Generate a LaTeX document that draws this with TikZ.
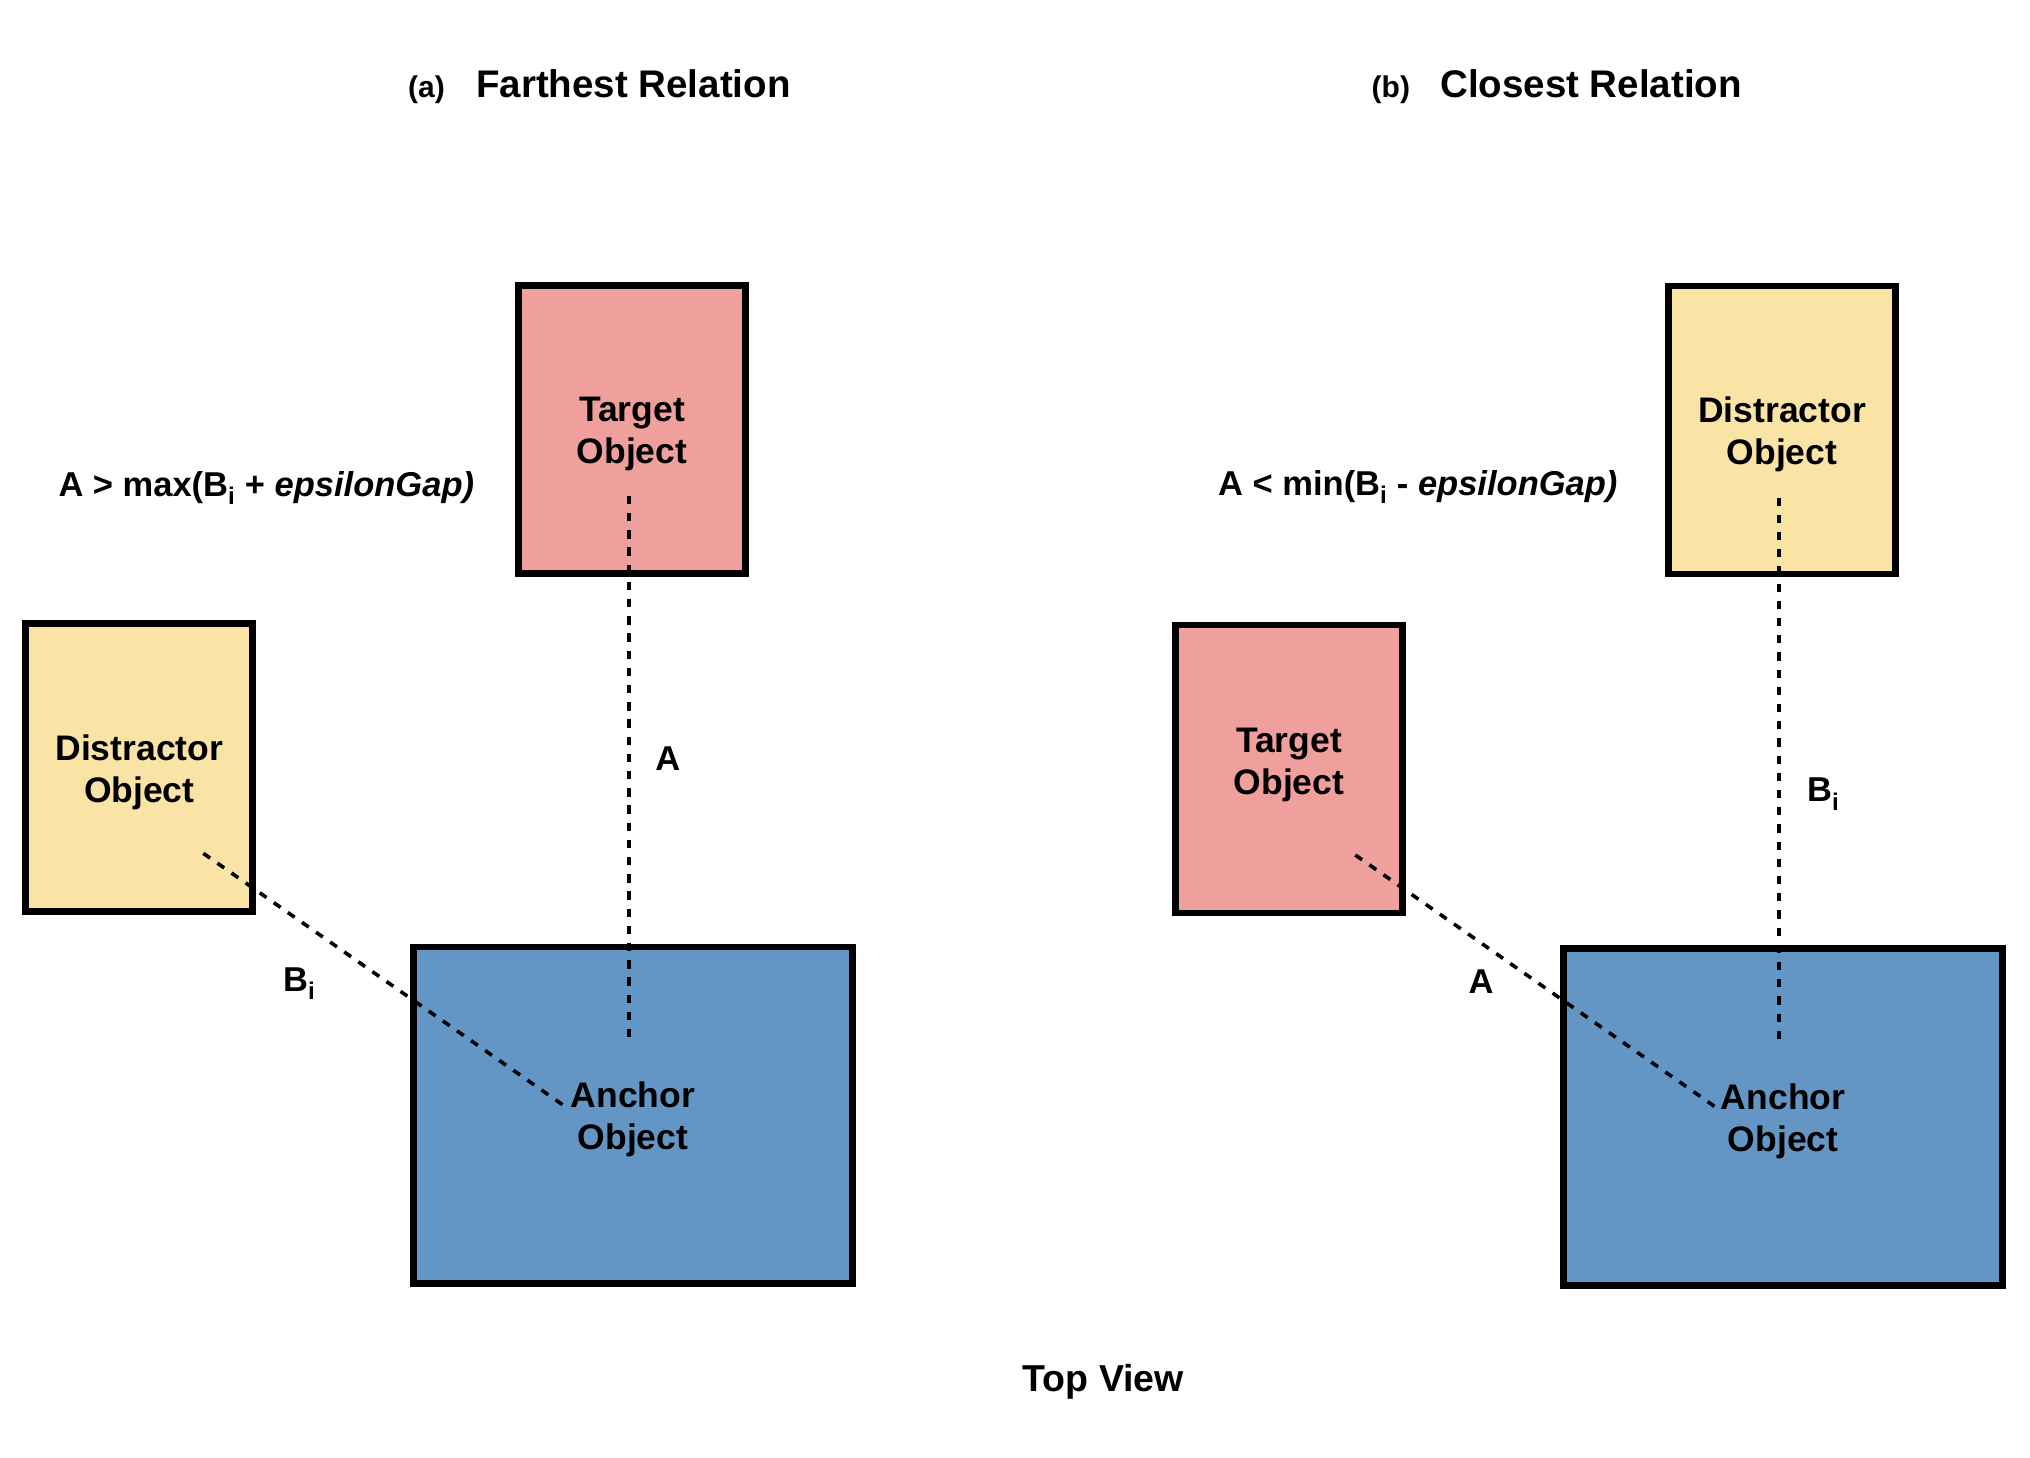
\documentclass[tikz,border=0pt]{standalone}
\usepackage{fontspec}
\setmainfont{Liberation Sans}
\definecolor{pinkc}{HTML}{EF9F9C}
\definecolor{yellowc}{HTML}{F9E4A6}
\definecolor{bluec}{HTML}{6496C5}
\begin{document}
\begin{tikzpicture}[x=1pt,y=-1pt,
  box/.style={draw=black,line width=6.7pt,inner sep=0pt},
  smallbox/.style={box,minimum width=227pt,minimum height=288pt},
  bigbox/.style={box,minimum width=439pt,minimum height=336.7pt},
  lbl/.style={font=\fontsize{35.5}{42}\selectfont\bfseries,align=center,inner sep=0pt},
  note/.style={font=\fontsize{34.5}{40}\selectfont\bfseries,inner sep=0pt},
  ttl/.style={font=\fontsize{38.5}{46}\selectfont\bfseries,inner sep=0pt},
  tag/.style={font=\fontsize{30}{36}\selectfont\bfseries,inner sep=0pt},
  dline/.style={line width=3.6pt,dash pattern=on 8.3pt off 8.9pt}]
\useasboundingbox (0,0) rectangle (2030,1458);

% titles
\node[tag,anchor=base west] (tagA) at (408,97.7) {(a)};
\node[ttl,anchor=base west] (titleA) at (476,97.7) {Farthest Relation};
\node[tag,anchor=base west] (tagB) at (1371.5,97.7) {(b)};
\node[ttl,anchor=base west] (titleB) at (1440,97.7) {Closest Relation};
\node[ttl,font=\fontsize{37.5}{45}\selectfont\bfseries,anchor=base] (topview) at (1103.3,1391.7) {Top View};

% panel (a) boxes
\node[smallbox,fill=pinkc] (tA) at (632,429.2) {};
\node[smallbox,fill=yellowc] (dA) at (139.3,767.8) {};
\node[bigbox,fill=bluec] (aA) at (633,1115.3) {};

% panel (b) boxes
\node[smallbox,fill=yellowc] (dB) at (1782,430) {};
\node[smallbox,fill=pinkc] (tB) at (1289,769) {};
\node[bigbox,fill=bluec] (aB) at (1783.1,1117) {};

% box labels
\node[lbl] (tAtxt) at ([yshift=-4.5pt]tA.center) {Target\\Object};
\node[lbl] (dAtxt) at ([yshift=-4.5pt]dA.center) {Distractor\\Object};
\node[lbl] (aAtxt) at ([yshift=-4.5pt]aA.center) {Anchor\\Object};
\node[lbl] (dBtxt) at ([yshift=-4.5pt]dB.center) {Distractor\\Object};
\node[lbl] (tBtxt) at ([yshift=4.5pt]tB.center) {Target\\Object};
\node[lbl] (aBtxt) at ([yshift=-4.5pt]aB.center) {Anchor\\Object};

% connector end points
\coordinate (av1) at (628.7,495.8);
\coordinate (av2) at (628.7,1039.6);
\coordinate (ad1) at (203.3,853.3);
\coordinate (ad2) at (564.4,1106);
\coordinate (bv1) at (1778.8,497.5);
\coordinate (bv2) at (1778.8,1040.5);
\coordinate (bd1) at (1355.3,855);
\coordinate (bd2) at (1716.4,1107.7);

\draw[dline] (av1) -- (av2);
\draw[dline] (ad1) -- (ad2);
\draw[dline] (bv1) -- (bv2);
\draw[dline] (bd1) -- (bd2);

% distance labels
\node[note,anchor=base] (lA) at (667.8,770) {A};
\node[note,anchor=base west] (lBa) at (283,991) {B\textsubscript{i}};
\node[note,anchor=base west] (lBb) at (1807,801.5) {B\textsubscript{i}};
\node[note,anchor=base] (lAb) at (1481,993) {A};

% formulas
\node[note,anchor=base west] (fA) at (58.3,496) {A > max(B\textsubscript{i} + \textit{epsilonGap)}};
\node[note,anchor=base west] (fB) at (1218,495) {A < min(B\textsubscript{i} - \textit{epsilonGap)}};
\end{tikzpicture}
\end{document}
